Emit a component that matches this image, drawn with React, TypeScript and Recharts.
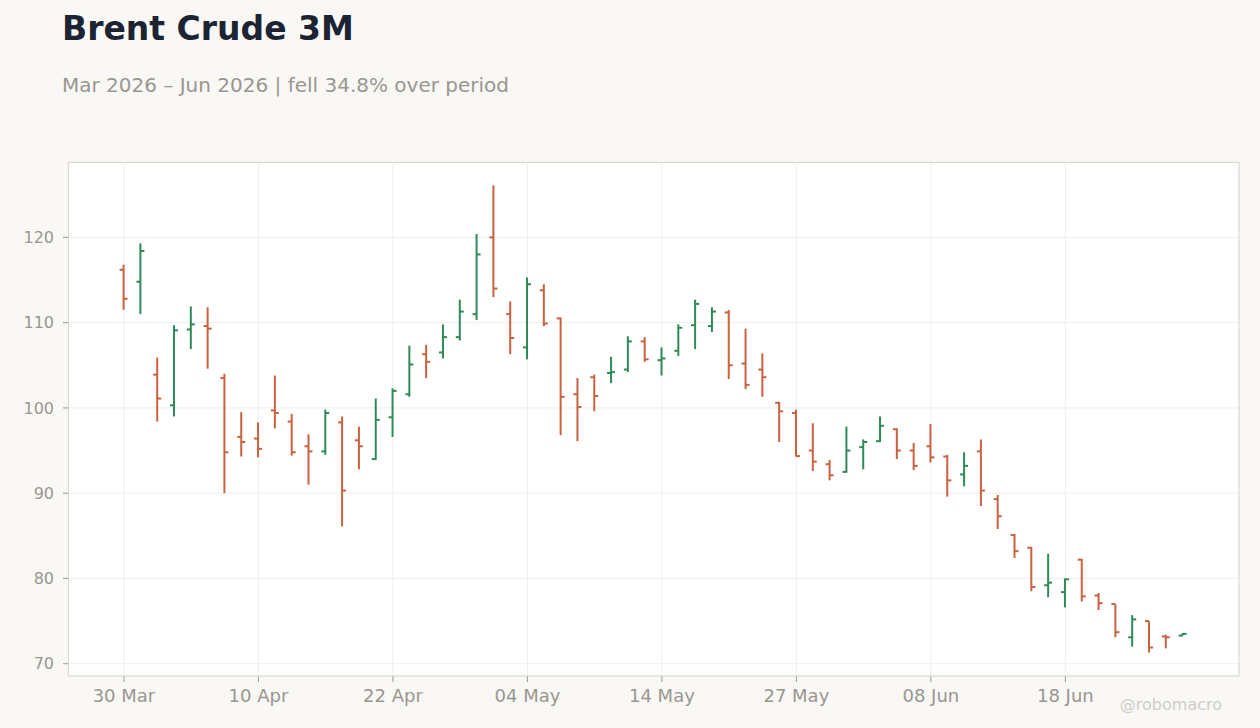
import React from 'react';
import { ComposedChart, Bar, XAxis, YAxis, CartesianGrid } from 'recharts';

// trading days, Mar–Jun 2026
const dates = [
  '30 Mar', '31 Mar', '01 Apr', '02 Apr', '06 Apr', '07 Apr', '08 Apr', '09 Apr',
  '10 Apr', '13 Apr', '14 Apr', '15 Apr', '16 Apr', '17 Apr', '20 Apr', '21 Apr',
  '22 Apr', '23 Apr', '24 Apr', '27 Apr', '28 Apr', '29 Apr', '30 Apr', '01 May',
  '04 May', '05 May', '06 May', '07 May', '08 May', '11 May', '12 May', '13 May',
  '14 May', '15 May', '18 May', '19 May', '20 May', '21 May', '22 May', '26 May',
  '27 May', '28 May', '29 May', '01 Jun', '02 Jun', '03 Jun', '04 Jun', '05 Jun',
  '08 Jun', '09 Jun', '10 Jun', '11 Jun', '12 Jun', '15 Jun', '16 Jun', '17 Jun',
  '18 Jun', '19 Jun', '22 Jun', '23 Jun', '24 Jun', '25 Jun', '26 Jun', '29 Jun',
];

const opens = [
  116.2, 114.8, 103.9, 100.3, 109.2, 109.6, 103.5, 96.6,
  96.4, 99.7, 98.4, 95.5, 94.9, 98.3, 96.2, 94.0,
  98.9, 101.6, 106.3, 106.5, 108.3, 111.0, 120.0, 111.0,
  107.1, 113.8, 110.5, 101.6, 103.6, 104.1, 104.5, 107.8,
  105.6, 106.7, 109.7, 109.6, 111.2, 105.2, 104.5, 100.6,
  99.4, 95.0, 93.4, 92.5, 95.4, 96.1, 97.5, 95.0,
  95.5, 94.3, 92.2, 94.9, 89.3, 85.1, 83.6, 79.2,
  78.4, 82.2, 78.0, 77.0, 73.1, 75.0, 73.2, 73.3,
];
const highs = [
  116.8, 119.3, 105.9, 109.7, 111.9, 111.8, 104.0, 99.5,
  98.3, 103.8, 99.3, 96.9, 99.8, 99.0, 97.8, 101.1,
  102.3, 107.3, 107.4, 109.8, 112.7, 120.4, 126.1, 112.5,
  115.3, 114.5, 110.6, 103.5, 103.9, 106.0, 108.4, 108.3,
  107.1, 109.8, 112.7, 111.8, 111.5, 109.3, 106.4, 100.7,
  99.8, 98.2, 93.9, 97.8, 96.3, 99.0, 97.6, 95.9,
  98.1, 94.5, 94.8, 96.3, 89.8, 85.2, 83.7, 82.9,
  80.0, 82.3, 78.3, 77.0, 75.7, 75.0, 73.4, 73.6,
];
const lows = [
  111.5, 111.0, 98.4, 99.0, 106.9, 104.6, 90.0, 94.3,
  94.2, 97.6, 94.4, 91.0, 94.5, 86.1, 92.8, 93.9,
  96.6, 101.3, 103.5, 105.8, 107.9, 110.3, 113.0, 106.3,
  105.7, 109.6, 96.8, 96.1, 99.6, 102.9, 104.2, 105.4,
  103.8, 106.1, 106.9, 108.9, 103.4, 102.2, 101.3, 96.0,
  94.3, 92.6, 91.5, 92.4, 92.8, 96.0, 94.0, 92.7,
  93.6, 89.6, 90.8, 88.5, 85.8, 82.4, 78.5, 77.8,
  76.6, 77.3, 76.3, 73.1, 72.0, 71.3, 71.8, 73.3,
];
const closes = [
  112.8, 118.4, 101.1, 109.1, 109.8, 109.3, 94.8, 96.0,
  95.2, 99.4, 94.8, 94.9, 99.4, 90.3, 95.5, 98.6,
  102.0, 105.1, 105.4, 108.3, 111.3, 118.0, 114.0, 108.2,
  114.5, 109.9, 101.3, 100.1, 101.4, 104.2, 107.8, 105.7,
  105.8, 109.4, 112.2, 111.3, 105.0, 102.7, 103.6, 99.6,
  94.35, 93.7, 92.1, 95.0, 96.0, 97.9, 95.0, 93.2,
  94.2, 91.5, 93.2, 90.3, 87.3, 83.2, 79.0, 79.5,
  79.9, 77.9, 77.1, 73.7, 75.2, 71.9, 73.1, 73.5,
];

const tickDates = ['30 Mar', '10 Apr', '22 Apr', '04 May', '14 May', '27 May', '08 Jun', '18 Jun'];
const yTicks = [70, 80, 90, 100, 110, 120];

const UP = '#2e8b57';
const DOWN = '#c9623f';
const MUTED = '#9a9690';

const data = dates.map((date, i) => ({
  i,
  date,
  open: opens[i],
  high: highs[i],
  low: lows[i],
  close: closes[i],
  range: [lows[i], highs[i]],
}));

const lo = Math.min(...lows);
const hi = Math.max(...highs);
const pad = (hi - lo) * 0.05;
const xPad = 3.33;

const OhlcBar = (props: any) => {
  const { x, y, width, height, payload } = props;
  if (!payload) return null;
  const top = Math.min(y, y + height);
  const h = Math.abs(height);
  const span = payload.high - payload.low || 1;
  const cx = x + width / 2;
  const oy = top + ((payload.high - payload.open) / span) * h;
  const cy = top + ((payload.high - payload.close) / span) * h;
  const color = payload.close >= payload.open ? UP : DOWN;
  return (
    <g>
      <line x1={cx} x2={cx} y1={top} y2={top + h} stroke={color} strokeWidth={2} />
      <line x1={cx - 4} x2={cx} y1={oy} y2={oy} stroke={color} strokeWidth={2} />
      <line x1={cx} x2={cx + 4} y1={cy} y2={cy} stroke={color} strokeWidth={2} />
    </g>
  );
};

export default function App() {
  const font = '"DejaVu Sans", sans-serif';
  return (
    <div style={{ position: 'relative', width: 1260, height: 728, background: '#f9f8f5', fontFamily: font }}>
      <style>{'body{margin:0;}'}</style>
      <ComposedChart
        width={1260}
        height={728}
        data={data}
        margin={{ top: 162, right: 21, bottom: 22, left: 8 }}
      >
        <CartesianGrid stroke="#eeeeee" fill="#ffffff" />
        <XAxis
          type="number"
          dataKey="i"
          domain={[-xPad, dates.length - 1 + xPad]}
          ticks={tickDates.map((d) => dates.indexOf(d))}
          tickFormatter={(v: number) => dates[v]}
          height={30}
          axisLine={false}
          tickLine={{ stroke: '#999999' }}
          tickSize={6}
          tickMargin={7}
          tick={{ fill: MUTED, fontSize: 18, fontFamily: font }}
        />
        <YAxis
          type="number"
          domain={[lo - pad, hi + pad]}
          ticks={yTicks}
          width={60}
          axisLine={false}
          tickLine={{ stroke: '#999999' }}
          tickSize={5}
          tickMargin={9}
          tick={{ fill: MUTED, fontSize: 16, fontFamily: font }}
        />
        <Bar dataKey="range" barSize={10} shape={<OhlcBar />} isAnimationActive={false} />
      </ComposedChart>
      <svg
        width={1260}
        height={728}
        style={{ position: 'absolute', left: 0, top: 0, pointerEvents: 'none' }}
      >
        <rect x={68.5} y={162.5} width={1170.5} height={513.5} fill="none" stroke="#dcd7cf" strokeWidth={1} />
        <text x={62} y={40} fontSize={33} fontWeight="bold" fill="#1c2433" fontFamily={font}>
          Brent Crude 3M
        </text>
        <text x={62} y={92} fontSize={20} fill={MUTED} fontFamily={font}>
          Mar 2026 – Jun 2026 | fell 34.8% over period
        </text>
        <text x={1222} y={710} fontSize={16} fill="#cfcdca" textAnchor="end" fontFamily={font}>
          @robomacro
        </text>
      </svg>
    </div>
  );
}
